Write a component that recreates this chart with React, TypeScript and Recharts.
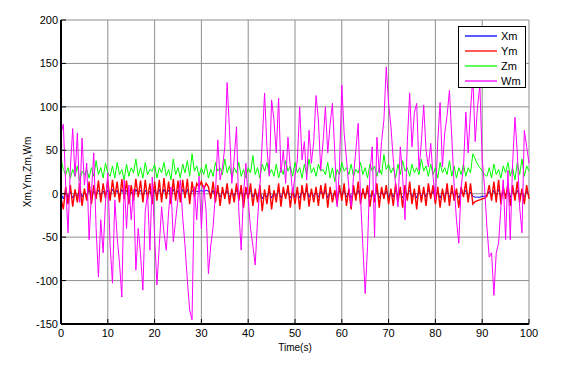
import { LineChart, Line, XAxis, YAxis, CartesianGrid } from "recharts";

// sampled every 0.5 s, t = 0 .. 100
const STEP = 0.5;

const xm = [
  0, -6, 3, -4, 2, -5, 1, -3, 4, -4, 2, -2, 5, -3, 3, -1, 4, -2, 3, -1, 4,
  -2, 5, 0, 4, -3, 5, -1, 4, -4, 2, -2, 5, 0, 4, -3, 4, -1, 3, -4, 4,
  -2, 5, -3, 5, -1, 4, -3, 5, -2, 4, -3, 5, -1, 5, -4, 4, 0, 3, 2, 4,
  2, 4, 3, -2, 4, -3, 3, -4, 2, -2, 4, -4, 2, -3, 4, -2, 3, -5, 2, -2,
  4, -4, 2, -3, 3, -6, 1, -4, 3, -5, 1, -3, 4, -5, 2, -2, 3, -5, 2, -4,
  2, -5, 3, -2, 4, -4, 2, -3, 2, -4, 3, -2, 4, -5, 2, -3, 1, -4, 3, -2,
  4, -4, 2, -5, 3, -2, 4, -3, 2, -2, 3, -4, 1, -3, 4, -5, 2, -2, 3, -4,
  2, -4, 4, -3, 2, -5, 3, -2, 4, -4, 2, -5, 3, -3, 2, -4, 4, -2, 3, -4,
  2, -5, 2, -3, 4, -4, 3, -2, 2, -5, 2, -1, 4, -3, 2, -3, -4, -4, -4, -3,
  -3, -2, 3, -2, 4, -3, 5, -4, 2, -2, 4, -4, 3, -2, 4, -3, 2, -4, 3, -2,
];

const ym = [
  -5, -18, 8, -12, 10, -15, 5, -10, 12, -14, 6, -8, 14, -12, 10, -6, 15, -10, 12, -5, 15,
  -8, 16, -4, 14, -10, 17, -6, 15, -12, 10, -8, 17, -4, 15, -10, 16, -6, 12, -12, 14,
  -8, 16, -10, 18, -6, 14, -12, 17, -8, 15, -10, 16, -5, 17, -12, 14, -4, 12, 8, 14,
  5, 12, 8, -6, 14, -10, 10, -14, 8, -6, 12, -12, 6, -10, 12, -8, 10, -16, 8, -6,
  12, -14, 6, -10, 10, -20, 5, -12, 10, -18, 4, -10, 12, -15, 8, -6, 10, -16, 6, -12,
  8, -18, 10, -8, 12, -15, 6, -10, 8, -14, 10, -6, 12, -16, 8, -10, 4, -12, 10, -8,
  12, -14, 6, -18, 10, -8, 14, -12, 6, -6, 10, -15, 4, -10, 12, -16, 8, -6, 10, -12,
  6, -14, 12, -10, 8, -16, 10, -8, 14, -12, 6, -18, 10, -10, 8, -14, 12, -6, 10, -12,
  8, -16, 6, -10, 12, -14, 10, -8, 6, -16, 8, -4, 14, -10, 12, -12, -9, -8, -7, -6,
  -5, -3, 10, -8, 14, -10, 16, -12, 8, -6, 12, -14, 10, -8, 14, -10, 6, -12, 10, -6,
];

const zm = [
  40, 28, 22, 30, 18, 28, 20, 32, 15, 26, 22, 28, 18, 30, 20, 38, 22, 30, 18, 35, 24,
  20, 32, 18, 36, 22, 28, 16, 34, 20, 30, 24, 40, 20, 30, 18, 36, 22, 28, 26, 34,
  18, 30, 24, 36, 20, 28, 16, 40, 22, 30, 18, 34, 24, 38, 20, 46, 26, 32, 20, 30,
  22, 34, 18, 28, 20, 36, 26, 30, 22, 40, 24, 32, 18, 30, 24, 36, 20, 28, 18, 30,
  24, 44, 22, 30, 18, 34, 26, 36, 22, 28, 20, 34, 18, 30, 22, 38, 26, 32, 20, 36,
  24, 30, 18, 34, 22, 40, 24, 30, 20, 34, 26, 28, 22, 36, 18, 30, 14, 28, 22, 36,
  26, 30, 22, 34, 20, 28, 24, 36, 22, 30, 18, 34, 26, 32, 20, 30, 22, 45, 28, 34,
  24, 30, 18, 34, 22, 38, 26, 30, 20, 34, 24, 30, 22, 40, 26, 32, 20, 34, 22, 30,
  18, 36, 24, 30, 22, 38, 20, 32, 18, 30, 22, 34, 20, 30, 24, 46, 40, 34, 30, 26,
  22, 20, 30, 18, 34, 22, 28, 18, 32, 24, 36, 20, 30, 16, 36, 22, 40, 20, 32, 26,
];

const wm = [
  70, 80, 10, -45, 30, 75, 20, 70, -10, 64, 10, 35, -53, 0, 47, -40, -96, -30, -68, -10, 24,
  -60, -103, -7, -50, -80, -119, 16, -40, 10, -30, 5, -88, -40, -70, -111, -20, 0, -65, 19, -50,
  -105, -60, -15, -45, -65, -20, 8, -55, -30, -5, 16, -27, -60, -100, -134, -145, 8, -30, 20, -40,
  10, -20, -92, -60, -38, 0, 62, 16, 30, 54, 128, 73, 12, 40, 77, -20, -65, 0, 35, -7,
  -40, -60, -82, -30, 8, 60, 116, 54, 20, 108, 85, 47, 110, 24, 50, 12, 65, 30, 0, 20,
  39, 100, 39, 60, 16, 73, 35, 60, 113, 85, 27, 60, 100, 47, 80, 104, 47, -15, 30, 125,
  70, 40, 8, -15, 20, 50, 81, -4, -61, -115, -61, 24, 54, -50, 65, 24, 60, 85, 146, 104,
  77, 39, 10, -15, 54, 20, -30, 60, 116, 54, 93, 104, 27, 60, 102, 50, 31, 58, 20, -7,
  60, 105, 31, 70, 90, 119, 65, 10, -30, -57, 8, 30, 94, 47, 96, 134, 60, 100, 125, 40,
  8, -38, -73, -68, -117, -68, -57, -15, 16, -53, 27, -53, 35, 88, 47, -15, -45, 73, 54, 35,
];

const xTicks = [0, 10, 20, 30, 40, 50, 60, 70, 80, 90, 100];
const yTicks = [-150, -100, -50, 0, 50, 100, 150, 200];

const SERIES = [
  { key: "Xm", color: "#0000ff", width: 1 },
  { key: "Ym", color: "#ff0000", width: 1.4 },
  { key: "Zm", color: "#00ff00", width: 1 },
  { key: "Wm", color: "#ff00ff", width: 1 },
];

const data = wm.map((w, i) => ({
  t: i * STEP,
  Xm: xm[i],
  Ym: ym[i],
  Zm: zm[i],
  Wm: w,
}));

const FONT = "'Liberation Sans', Arial, sans-serif";
const TOP = 20;
const BOTTOM = 324;
const LEFT = 61;
const RIGHT = 529;

const BottomTick = (props: any) => {
  const { x, payload } = props;
  return (
    <g>
      <line x1={x} y1={BOTTOM} x2={x} y2={BOTTOM - 5} stroke="#000" />
      <text x={x} y={BOTTOM + 13} textAnchor="middle" fontSize={11} fill="#000" fontFamily={FONT}>
        {payload.value}
      </text>
    </g>
  );
};

const TopTick = (props: any) => (
  <line x1={props.x} y1={TOP} x2={props.x} y2={TOP + 5} stroke="#000" />
);

const LeftTick = (props: any) => {
  const { y, payload } = props;
  return (
    <g>
      <line x1={LEFT} y1={y} x2={LEFT + 5} y2={y} stroke="#000" />
      <text x={LEFT - 3} y={y + 4} textAnchor="end" fontSize={11} fill="#000" fontFamily={FONT}>
        {payload.value}
      </text>
    </g>
  );
};

const RightTick = (props: any) => (
  <line x1={RIGHT} y1={props.y} x2={RIGHT - 5} y2={props.y} stroke="#000" />
);

const LegendBox = () => (
  <div
    style={{
      position: "absolute",
      left: 458,
      top: 26,
      width: 68,
      height: 62,
      border: "1px solid #000",
      background: "#fff",
      boxSizing: "border-box",
      paddingTop: 1,
      fontFamily: FONT,
      fontSize: 11,
    }}
  >
    {SERIES.map((s) => (
      <div key={s.key} style={{ display: "flex", alignItems: "center", height: 15 }}>
        <svg width={42} height={15} style={{ display: "block" }}>
          <line x1={6} y1={8} x2={38} y2={8} stroke={s.color} strokeWidth={1.3} />
        </svg>
        <span>{s.key}</span>
      </div>
    ))}
  </div>
);

export default function App() {
  return (
    <div style={{ position: "absolute", left: 0, top: 0, width: 567, height: 366, background: "#fff" }}>
      <LineChart width={567} height={366} data={data} margin={{ top: TOP, right: 567 - RIGHT, bottom: 0, left: 0 }}>
        <CartesianGrid stroke="#8f8f8f" strokeWidth={1} />
        <XAxis
          dataKey="t"
          type="number"
          domain={[0, 100]}
          ticks={xTicks}
          tick={<BottomTick />}
          tickLine={false}
          axisLine={{ stroke: "#000", strokeWidth: 2 }}
          height={366 - BOTTOM}
          label={{ value: "Time(s)", position: "insideBottom", offset: 15, fontSize: 10, fill: "#000", fontFamily: FONT }}
        />
        <XAxis
          xAxisId="top"
          orientation="top"
          dataKey="t"
          type="number"
          domain={[0, 100]}
          ticks={xTicks}
          tick={<TopTick />}
          tickLine={false}
          axisLine={{ stroke: "#000", strokeWidth: 1.5 }}
          height={0}
        />
        <YAxis
          type="number"
          domain={[-150, 200]}
          ticks={yTicks}
          tick={<LeftTick />}
          tickLine={false}
          axisLine={{ stroke: "#000", strokeWidth: 2 }}
          width={LEFT}
          label={{ value: "Xm,Ym,Zm,Wm", angle: -90, position: "insideLeft", offset: 27, fontSize: 10, fill: "#000", fontFamily: FONT, style: { textAnchor: "middle" } }}
        />
        <YAxis
          yAxisId="right"
          orientation="right"
          type="number"
          domain={[-150, 200]}
          ticks={yTicks}
          tick={<RightTick />}
          tickLine={false}
          axisLine={{ stroke: "#000", strokeWidth: 1.5 }}
          width={0}
        />
        {SERIES.map((s) => (
          <Line
            key={s.key}
            type="linear"
            dataKey={s.key}
            stroke={s.color}
            strokeWidth={s.width}
            dot={false}
            isAnimationActive={false}
          />
        ))}
      </LineChart>
      <LegendBox />
    </div>
  );
}
